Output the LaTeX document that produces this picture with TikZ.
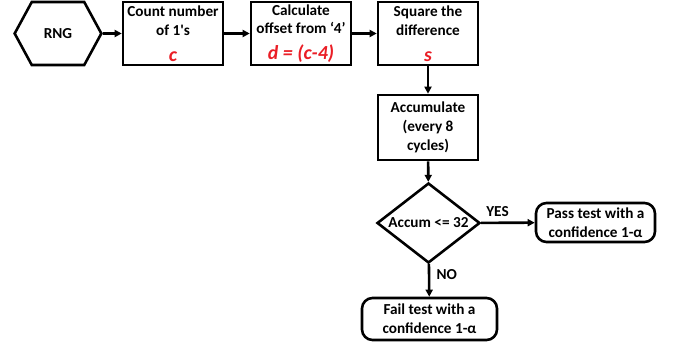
\documentclass[tikz,border=0pt]{standalone}
\usepackage{fontspec}
\setmainfont{Carlito}
\usepackage{tikz}
\usetikzlibrary{shapes.geometric,shapes.symbols,arrows.meta,positioning}
\definecolor{redtxt}{RGB}{234,30,38}

\begin{document}
\begin{tikzpicture}[x=0.03cm, y=-0.03cm,
    every node/.style={font=\fontsize{13}{16}\selectfont\bfseries, align=center},
    box/.style={draw, line width=2.2pt, minimum width=3cm, minimum height=1.89cm, inner sep=1pt},
    endbox/.style={draw, line width=2.2pt, rounded corners=9pt, inner sep=1pt},
    flow/.style={-{Triangle[length=6pt,width=6pt]}, line width=2.2pt}]
    \useasboundingbox (0,0) rectangle (673,345);
            \node[draw, line width=2.2pt, signal, signal to=west and east, signal pointer angle=123,
                  minimum width=2.6cm, minimum height=1.89cm] (rng) at (58,33.5) {RNG};
            \node[box] (count) at (173,33.5) {Count number\\of 1\textquotesingle s\\[6pt]{\fontsize{17}{19}\selectfont\itshape\color{redtxt} c}};
            \node[box] (offset) at (301,33.5) {Calculate\\offset from ‘4’\\[6pt]{\fontsize{17}{19}\selectfont\itshape\color{redtxt} d = (c-4)}};
            \node[box] (square) at (428,33.5) {Square the\\difference\\[6pt]{\fontsize{17}{19}\selectfont\itshape\color{redtxt} s}};
            \node[box, minimum height=1.95cm] (accum) at (428,127.5) {Accumulate\\(every 8\\cycles)};
            \node[draw, line width=2.2pt, diamond, inner sep=0pt, minimum width=3.09cm, minimum height=2.4cm,
                  label={center:Accum <= 32}] (test) at (428.5,223) {};
            \node[endbox, minimum width=3.57cm, minimum height=1.17cm] (pass) at (595.5,222.5) {Pass test with a\\confidence 1-α};
            \node[endbox, minimum width=4.05cm, minimum height=1.26cm] (fail) at (429.5,319) {Fail test with a\\confidence 1-α};
            \draw[flow] (rng) -- (count);
            \draw[flow] (count) -- (offset);
            \draw[flow] (offset) -- (square);
            \draw[flow] (square) -- (accum);
            \draw[flow] (accum) -- (test);
            \draw[flow] (test) -- node[above right=1pt and 0pt, pos=0] (yes) {YES} (pass);
            \draw[flow] (test) -- node[right=2pt, pos=0.33] (no) {NO} (fail);
        \end{tikzpicture}
\end{document}
